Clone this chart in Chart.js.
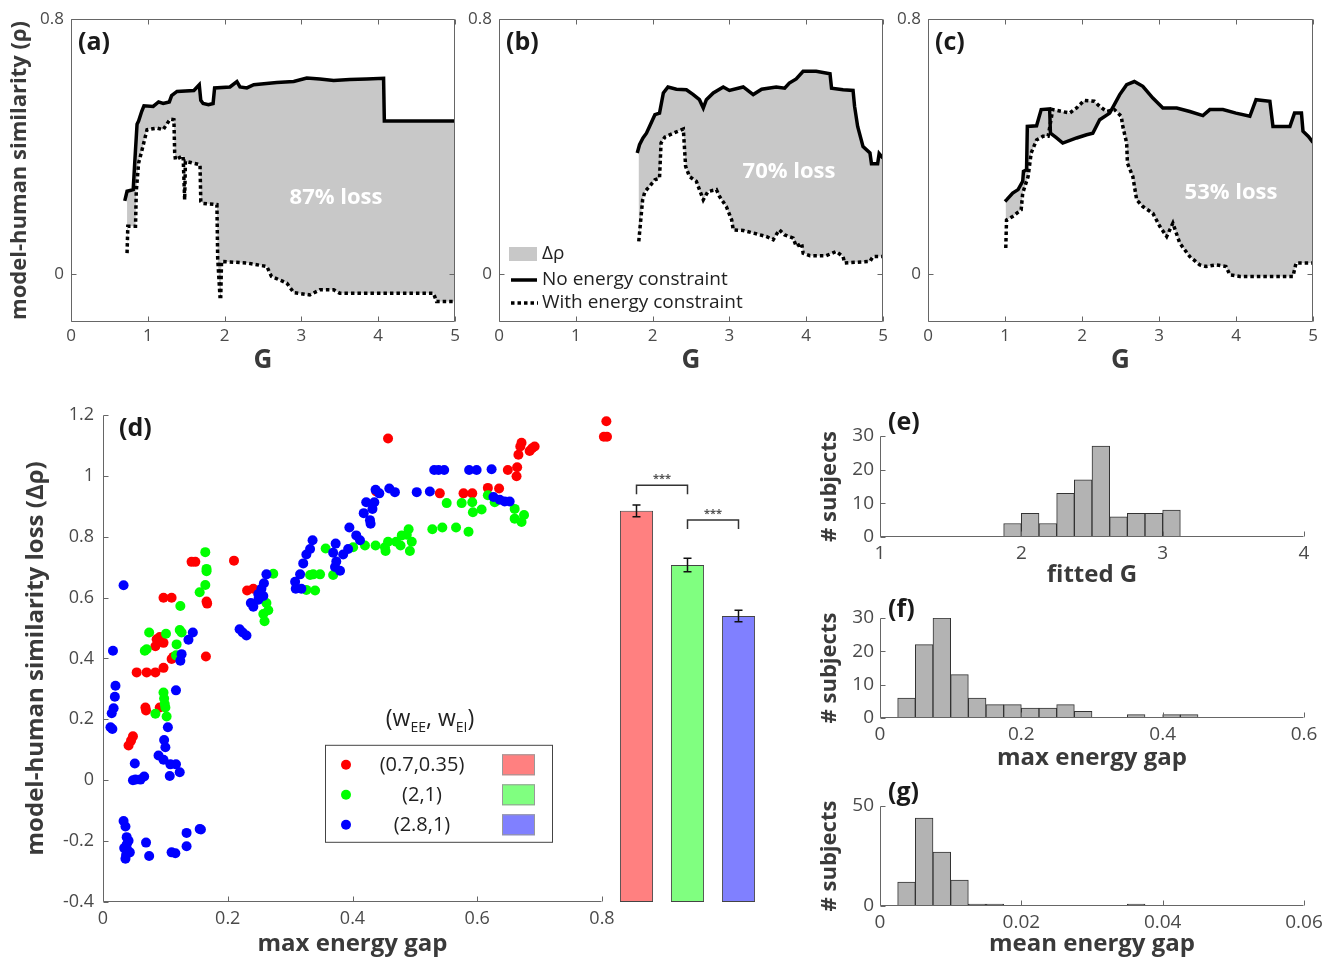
<!DOCTYPE html>
<html>
<head>
<meta charset="utf-8">
<script src="https://cdn.jsdelivr.net/npm/chart.js@4.4.0/dist/chart.umd.min.js"></script>
<style>
html, body { margin: 0; padding: 0; background: #fff; }
#fig { position: relative; width: 1335px; height: 960px; overflow: hidden; background: #fff; }
#fig canvas { position: absolute; }
</style>
</head>
<body>
<div id="fig"></div>
<script>
// ---- (a)-(c): similarity vs G, free model and energy-constrained model ----
const gA_free   = [0.70,0.73,0.81,0.83,0.86,0.88,0.92,0.95,1.07,1.14,1.2,1.28,1.31,1.38,1.6,1.67,1.69,1.72,1.79,1.85,1.87,2.07,2.16,2.2,2.29,2.38,2.68,2.9,3.07,3.24,3.42,3.63,3.85,4.07,4.08,5.0];
const rhoA_free = [0.23,0.26,0.265,0.35,0.47,0.48,0.51,0.528,0.526,0.54,0.535,0.54,0.56,0.573,0.576,0.594,0.545,0.535,0.531,0.535,0.584,0.587,0.604,0.587,0.584,0.594,0.601,0.604,0.615,0.612,0.607,0.61,0.612,0.614,0.48,0.48];
const gA_con    = [0.73,0.74,0.84,0.85,0.88,0.92,0.99,1.12,1.2,1.29,1.34,1.35,1.36,1.44,1.46,1.48,1.49,1.68,1.69,1.72,1.9,1.91,1.94,1.95,1.96,2.29,2.55,2.61,2.81,2.9,3.11,3.24,3.42,3.5,4.72,4.76,5.0];
const rhoA_con  = [0.066,0.15,0.15,0.26,0.348,0.385,0.453,0.458,0.453,0.486,0.484,0.38,0.359,0.369,0.37,0.233,0.354,0.343,0.228,0.222,0.218,0.05,-0.07,-0.07,0.04,0.035,0.024,-0.007,-0.028,-0.058,-0.065,-0.049,-0.049,-0.06,-0.06,-0.086,-0.086];

const gB_free   = [1.80,1.83,1.875,1.92,1.96,2.03,2.09,2.14,2.2,2.31,2.44,2.53,2.61,2.66,2.7,2.79,2.92,3.0,3.18,3.31,3.42,3.61,3.72,3.78,3.87,3.96,4.13,4.31,4.33,4.48,4.61,4.63,4.67,4.74,4.83,4.85,4.93,4.95,5.0];
const rhoB_free = [0.38,0.406,0.427,0.442,0.463,0.5,0.505,0.568,0.587,0.58,0.578,0.563,0.547,0.521,0.547,0.568,0.587,0.576,0.587,0.563,0.58,0.587,0.583,0.599,0.612,0.636,0.636,0.628,0.583,0.578,0.576,0.526,0.463,0.4,0.38,0.346,0.346,0.378,0.364];
const gB_con    = [1.82,1.83,1.87,1.9,1.96,2.03,2.09,2.11,2.16,2.27,2.33,2.4,2.43,2.48,2.57,2.61,2.66,2.72,2.83,2.87,2.96,3.03,3.05,3.18,3.31,3.48,3.57,3.65,3.72,3.83,3.87,3.94,3.96,4.05,4.26,4.39,4.48,4.5,4.83,4.87,5.0];
const rhoB_con  = [0.103,0.129,0.233,0.259,0.275,0.296,0.301,0.411,0.43,0.442,0.448,0.455,0.338,0.306,0.291,0.265,0.233,0.259,0.265,0.244,0.212,0.17,0.139,0.137,0.129,0.118,0.108,0.139,0.123,0.113,0.087,0.097,0.066,0.058,0.058,0.071,0.055,0.035,0.04,0.055,0.055];

const gC_free   = [1.0,1.02,1.1,1.17,1.23,1.24,1.28,1.29,1.41,1.47,1.58,1.59,1.67,1.75,1.93,2.06,2.14,2.23,2.36,2.49,2.58,2.68,2.79,2.92,3.05,3.23,3.4,3.57,3.66,3.83,4.0,4.18,4.26,4.44,4.48,4.7,4.76,4.85,4.87,4.94,5.0];
const rhoC_free = [0.228,0.233,0.254,0.265,0.291,0.322,0.327,0.463,0.465,0.516,0.518,0.442,0.427,0.411,0.427,0.437,0.442,0.484,0.505,0.563,0.594,0.604,0.589,0.552,0.521,0.521,0.51,0.497,0.516,0.516,0.505,0.495,0.547,0.542,0.463,0.463,0.505,0.505,0.448,0.432,0.413];
const gC_con    = [1.01,1.02,1.1,1.21,1.23,1.3,1.34,1.41,1.49,1.56,1.62,1.84,1.93,2.03,2.16,2.23,2.32,2.42,2.51,2.53,2.58,2.59,2.66,2.71,2.79,2.92,3.01,3.1,3.18,3.27,3.4,3.53,3.61,3.74,3.87,3.92,4.05,4.74,4.78,5.0];
const rhoC_con  = [0.082,0.17,0.181,0.202,0.254,0.306,0.38,0.421,0.432,0.432,0.516,0.505,0.521,0.545,0.542,0.526,0.51,0.516,0.495,0.463,0.411,0.348,0.306,0.233,0.212,0.191,0.15,0.118,0.16,0.097,0.055,0.029,0.024,0.029,0.024,-0.002,-0.007,-0.007,0.035,0.035];

const rhoTicks = [0, 0.8];
const lossLabels = ['87% loss', '70% loss', '53% loss'];
const seriesNames = ['Δρ', 'No energy constraint', 'With energy constraint'];

// ---- (d): similarity loss vs max energy gap, one list per (wEE, wEI) ----
const redX = [0.041,0.048,0.045,0.068,0.069,0.054,0.070,0.084,0.097,0.091,0.084,0.086,0.097,0.091,0.110,0.113,0.097,0.110,0.142,0.148,0.166,0.167,0.165,0.210,0.231,0.241,0.438,0.457,0.540,0.578,0.592,0.617,0.635,0.649,0.664,0.663,0.666,0.669,0.671,0.684,0.688,0.692,0.807,0.803,0.808];
const redY = [0.114,0.144,0.13,0.239,0.229,0.354,0.354,0.354,0.369,0.239,0.440,0.463,0.451,0.47,0.398,0.405,0.599,0.599,0.717,0.717,0.587,0.58,0.406,0.721,0.623,0.629,0.948,1.122,0.942,0.942,0.942,0.960,0.958,1.019,1.028,0.998,1.069,1.096,1.108,1.081,1.090,1.096,1.179,1.128,1.128];
const greenX = [0.067,0.070,0.074,0.101,0.124,0.123,0.118,0.117,0.126,0.097,0.098,0.100,0.102,0.084,0.099,0.155,0.164,0.166,0.164,0.166,0.257,0.259,0.262,0.265,0.273,0.337,0.348,0.340,0.357,0.326,0.332,0.369,0.401,0.420,0.437,0.452,0.457,0.470,0.479,0.487,0.490,0.495,0.492,0.477,0.453,0.528,0.544,0.566,0.586,0.551,0.575,0.592,0.593,0.607,0.617,0.628,0.660,0.660,0.671,0.675];
const greenY = [0.425,0.43,0.485,0.481,0.572,0.493,0.446,0.410,0.485,0.288,0.268,0.239,0.209,0.218,0.25,0.617,0.749,0.694,0.641,0.686,0.546,0.522,0.582,0.558,0.678,0.676,0.676,0.623,0.761,0.625,0.674,0.674,0.765,0.771,0.771,0.765,0.783,0.783,0.804,0.806,0.824,0.783,0.753,0.771,0.753,0.824,0.830,0.830,0.816,0.910,0.910,0.913,0.880,0.889,0.936,0.913,0.891,0.859,0.848,0.871];
const blueX = [0.033,0.016,0.020,0.019,0.017,0.014,0.012,0.015,0.051,0.052,0.060,0.066,0.048,0.089,0.097,0.098,0.100,0.104,0.107,0.108,0.117,0.123,0.117,0.124,0.126,0.137,0.144,0.033,0.036,0.038,0.038,0.039,0.037,0.036,0.041,0.034,0.043,0.069,0.074,0.110,0.116,0.134,0.134,0.155,0.157,0.219,0.224,0.230,0.237,0.241,0.249,0.254,0.258,0.262,0.257,0.249,0.308,0.309,0.316,0.321,0.326,0.332,0.336,0.318,0.373,0.369,0.374,0.380,0.372,0.385,0.393,0.395,0.406,0.412,0.418,0.422,0.428,0.432,0.435,0.437,0.443,0.459,0.468,0.503,0.524,0.531,0.538,0.547,0.587,0.599,0.623,0.626,0.636,0.644,0.652,0.429];
const blueY = [0.64,0.425,0.31,0.274,0.236,0.22,0.174,0.168,0.055,0.002,0.002,0.012,0.0,0.081,0.067,0.132,0.108,0.174,0.014,0.052,0.052,0.026,0.295,0.392,0.414,0.461,0.485,-0.134,-0.152,-0.187,-0.211,-0.229,-0.246,-0.258,-0.199,-0.223,-0.237,-0.205,-0.249,-0.237,-0.240,-0.173,-0.217,-0.160,-0.162,0.496,0.485,0.475,0.582,0.570,0.611,0.629,0.647,0.676,0.605,0.593,0.652,0.629,0.676,0.712,0.741,0.759,0.788,0.629,0.777,0.747,0.718,0.688,0.700,0.741,0.759,0.830,0.804,0.788,0.877,0.913,0.854,0.891,0.913,0.954,0.942,0.958,0.946,0.946,0.948,1.019,1.019,1.019,1.019,1.019,1.021,0.930,0.921,0.915,0.915,0.842];

// mean loss per group, with error bars
const groupNames = ['(0.7,0.35)', '(2,1)', '(2.8,1)'];
const groupMean = [0.872, 0.696, 0.530];
const groupErr = [0.019, 0.022, 0.019];
const sigPairs = [[0, 1], [1, 2]];
const sigLevel = [0.955, 0.842];

// ---- (e)-(g): histograms (bin centres and counts) ----
const histE_x = [1.9375,2.0625,2.1875,2.3125,2.4375,2.5625,2.6875,2.8125,2.9375,3.0625];
const histE_n = [4,7,4,13,17,27,6,7,7,8];
const histF_x = [0.0375,0.0625,0.0875,0.1125,0.1375,0.1625,0.1875,0.2125,0.2375,0.2625,0.2875,0.3125,0.3375,0.3625,0.3875,0.4125,0.4375];
const histF_n = [6,22,30,13,6,4,4,3,3,4,2,0,0,1,0,1,1];
const histG_x = [0.00375,0.00625,0.00875,0.01125,0.01375,0.01625,0.01875,0.02125,0.02375,0.02625,0.02875,0.03125,0.03375,0.03625];
const histG_n = [12,44,27,13,1,1,0,0,0,0,0,0,0,1];

const FONT = "'Open Sans', 'DejaVu Sans', sans-serif";
Chart.defaults.font.family = FONT;
Chart.defaults.color = '#4a4a4a';
Chart.defaults.animation = false;
Chart.defaults.events = [];
Chart.defaults.plugins.legend.display = false;
Chart.defaults.plugins.tooltip.enabled = false;

const AXIS = '#666';
const TICK = '#4a4a4a';
const TITLE = '#3a3a3a';
const FILL = '#c8c8c8';
const dotColors = ['#ff0000', '#00ff00', '#0000ff'];
const barColors = ['#ff8080', '#80ff80', '#8080ff'];

// tick text like matlab: 1 not 1.0
function num(v) { return String(+(+v).toFixed(3)); }

function makeCanvas(left, top, w, h) {
    var c = document.createElement('canvas');
    c.width = w;
    c.height = h;
    c.style.left = left + 'px';
    c.style.top = top + 'px';
    c.style.width = w + 'px';
    c.style.height = h + 'px';
    document.getElementById('fig').appendChild(c);
    return c.getContext('2d');
}

function pts(xs, ys) {
    return xs.map(function (x, i) { return {x: x, y: ys[i]}; });
}

function txt(ctx, s, x, y, font, color, align) {
    ctx.font = font;
    ctx.fillStyle = color;
    ctx.textAlign = align || 'left';
    ctx.textBaseline = 'middle';
    ctx.fillText(s, x, y);
}

// matlab style axes: ticks pointing in, optional full box
function frame(box) {
    return {
        id: 'frame',
        afterDatasetsDraw(chart) {
            var ctx = chart.ctx, a = chart.chartArea, x = chart.scales.x, y = chart.scales.y;
            var L = Math.round(a.left) + 0.5, R = Math.round(a.right) - 0.5;
            var T = Math.round(a.top) + 0.5, B = Math.round(a.bottom) - 0.5;
            ctx.save();
            ctx.strokeStyle = AXIS;
            ctx.lineWidth = 1;
            ctx.setLineDash([]);
            ctx.beginPath();
            ctx.moveTo(L, T);
            ctx.lineTo(L, B);
            ctx.lineTo(R, B);
            if (box) { ctx.lineTo(R, T); ctx.closePath(); }
            x.ticks.forEach(function (t) {
                var px = Math.round(x.getPixelForValue(t.value)) + 0.5;
                ctx.moveTo(px, B); ctx.lineTo(px, B - 5);
                if (box) { ctx.moveTo(px, T); ctx.lineTo(px, T + 5); }
            });
            y.ticks.forEach(function (t) {
                var py = Math.round(y.getPixelForValue(t.value)) + 0.5;
                ctx.moveTo(L, py); ctx.lineTo(L + 5, py);
                if (box) { ctx.moveTo(R, py); ctx.lineTo(R - 5, py); }
            });
            ctx.stroke();
            ctx.restore();
        }
    };
}

// ---------- top row ----------
function linePanel(box, free, con, idx, yTitle, decor) {
    var ctx = makeCanvas(box.left, box.top, box.w, box.h);
    return new Chart(ctx, {
        type: 'line',
        data: {
            datasets: [
                {data: free, borderColor: '#000', borderWidth: 3.5, pointRadius: 0,
                 fill: {target: 1}, backgroundColor: FILL, tension: 0},
                {data: con, borderColor: '#000', borderWidth: 3.5, borderDash: [3.5, 3],
                 pointRadius: 0, fill: false, tension: 0}
            ]
        },
        options: {
            responsive: false,
            layout: {padding: {left: 0, top: box.T, right: box.R, bottom: 0}},
            plugins: {filler: {drawTime: 'beforeDatasetsDraw'}},
            scales: {
                x: {
                    type: 'linear', min: 0, max: 5,
                    afterFit: function (s) { s.height = box.B; },
                    grid: {display: false, drawTicks: false},
                    border: {display: false},
                    ticks: {stepSize: 1, padding: 4, color: TICK, font: {size: 17}, callback: num},
                    title: {display: true, text: 'G', color: TITLE,
                            font: {size: 26, weight: 'bold'}, padding: {top: 0, bottom: 4}}
                },
                y: {
                    min: -0.15, max: 0.8,
                    afterFit: function (s) { s.width = box.L; },
                    afterBuildTicks: function (s) { s.ticks = rhoTicks.map(function (v) { return {value: v}; }); },
                    grid: {display: false, drawTicks: false},
                    border: {display: false},
                    ticks: {padding: 7, color: TICK, font: {size: 17}, callback: num},
                    title: {display: !!yTitle, text: yTitle || '', color: TITLE,
                            font: {size: 22, weight: 'bold'}, padding: {top: 7, bottom: 0}}
                }
            }
        },
        plugins: [frame(true), {
            id: 'decor',
            afterDraw(chart) {
                var c = chart.ctx, a = chart.chartArea;
                c.save();
                txt(c, '(' + 'abc'[idx] + ')', a.left + 7, a.top + 24, 'bold 25px ' + FONT, '#1a1a1a');
                txt(c, lossLabels[idx], a.left + box.lossDx, a.top + box.lossDy, 'bold 22px ' + FONT, '#ffffff', 'center');
                if (decor) decor(c, a);
                c.restore();
            }
        }]
    });
}

linePanel({left: 0, top: 0, w: 465, h: 380, L: 71, T: 19, R: 10, B: 58, lossDx: 265, lossDy: 179},
    pts(gA_free, rhoA_free), pts(gA_con, rhoA_con), 0, 'model-human similarity (ρ)');

linePanel({left: 465, top: 0, w: 430, h: 380, L: 34, T: 19, R: 12, B: 58, lossDx: 290, lossDy: 153},
    pts(gB_free, rhoB_free), pts(gB_con, rhoB_con), 1, null, function (c, a) {
        var f = '19px ' + FONT;
        c.fillStyle = FILL;
        c.fillRect(a.left + 10, a.top + 228, 28, 14);
        txt(c, seriesNames[0], a.left + 43, a.top + 235, f, '#222');
        c.strokeStyle = '#000';
        c.lineWidth = 3.5;
        c.beginPath();
        c.moveTo(a.left + 12, a.top + 261); c.lineTo(a.left + 38, a.top + 261);
        c.stroke();
        txt(c, seriesNames[1], a.left + 43, a.top + 261, f, '#222');
        c.setLineDash([3.5, 3]);
        c.beginPath();
        c.moveTo(a.left + 12, a.top + 284); c.lineTo(a.left + 39, a.top + 284);
        c.stroke();
        c.setLineDash([]);
        txt(c, seriesNames[2], a.left + 43, a.top + 284, f, '#222');
    });

linePanel({left: 895, top: 0, w: 440, h: 380, L: 33, T: 19, R: 22, B: 58, lossDx: 303, lossDy: 174},
    pts(gC_free, rhoC_free), pts(gC_con, rhoC_con), 2, null);

// ---------- (d) scatter ----------
var ctxD = makeCanvas(0, 395, 630, 565);
new Chart(ctxD, {
    type: 'scatter',
    data: {
        datasets: [
            {data: pts(blueX, blueY), backgroundColor: dotColors[2], borderColor: dotColors[2], pointRadius: 5, borderWidth: 0, clip: false},
            {data: pts(greenX, greenY), backgroundColor: dotColors[1], borderColor: dotColors[1], pointRadius: 5, borderWidth: 0, clip: false},
            {data: pts(redX, redY), backgroundColor: dotColors[0], borderColor: dotColors[0], pointRadius: 5, borderWidth: 0, clip: false}
        ]
    },
    options: {
        responsive: false,
        layout: {padding: {left: 0, top: 15, right: 28, bottom: 0}},
        scales: {
            x: {
                type: 'linear', min: 0, max: 0.8,
                afterFit: function (s) { s.height = 58; },
                grid: {display: false, drawTicks: false},
                border: {display: false},
                ticks: {stepSize: 0.2, padding: 6, color: TICK, font: {size: 18}, callback: num},
                title: {display: true, text: 'max energy gap', color: TITLE,
                        font: {size: 24, weight: 'bold'}, padding: {top: 0, bottom: 1}}
            },
            y: {
                min: -0.4, max: 1.2,
                afterFit: function (s) { s.width = 103; },
                grid: {display: false, drawTicks: false},
                border: {display: false},
                ticks: {stepSize: 0.2, padding: 9, color: TICK, font: {size: 18}, callback: num},
                title: {display: true, text: 'model-human similarity loss (Δρ)', color: TITLE,
                        font: {size: 24, weight: 'bold'}, padding: {top: 22, bottom: 0}}
            }
        }
    },
    plugins: [frame(false), {
        id: 'decorD',
        afterDraw(chart) {
            var c = chart.ctx, a = chart.chartArea;
            c.save();
            txt(c, '(d)', a.left + 16, a.top + 14, 'bold 25px ' + FONT, '#1a1a1a');
            // legend title (w_EE, w_EI)
            var big = '23px ' + FONT, small = '14px ' + FONT;
            var parts = [['(w', big, 0], ['EE', small, 8], [', w', big, 0], ['EI', small, 8], [')', big, 0]];
            var total = 0;
            parts.forEach(function (p) { c.font = p[1]; total += c.measureText(p[0]).width; });
            var x0 = a.left + 327 - total / 2, yb = a.top + 305;
            c.textBaseline = 'middle';
            c.textAlign = 'left';
            c.fillStyle = '#222';
            parts.forEach(function (p) {
                c.font = p[1];
                c.fillText(p[0], x0, yb + p[2]);
                x0 += c.measureText(p[0]).width;
            });
            // legend box
            c.strokeStyle = '#444';
            c.lineWidth = 1;
            c.strokeRect(a.left + 222.5, a.top + 330.5, 227, 97);
            for (var i = 0; i < 3; i++) {
                var yy = a.top + 350 + i * 30;
                c.fillStyle = dotColors[i];
                c.beginPath();
                c.arc(a.left + 243, yy, 5, 0, Math.PI * 2);
                c.fill();
                txt(c, groupNames[i], a.left + 319, yy, '20px ' + FONT, '#222', 'center');
                c.fillStyle = barColors[i];
                c.fillRect(a.left + 399, yy - 10.5, 33, 21);
                c.strokeStyle = '#999';
                c.strokeRect(a.left + 399.5, yy - 10, 32, 20);
            }
            c.restore();
        }
    }]
});

// ---------- (d) group means as bars ----------
var ctxBar = makeCanvas(611, 410, 153, 492);
new Chart(ctxBar, {
    type: 'bar',
    data: {
        labels: groupNames,
        datasets: [{
            data: groupMean, base: -0.4,
            backgroundColor: barColors, borderColor: '#444', borderWidth: 1, borderSkipped: false,
            barPercentage: 0.65, categoryPercentage: 1
        }]
    },
    options: {
        responsive: false,
        layout: {padding: 0},
        scales: {
            x: {display: false},
            y: {display: false, min: -0.4, max: 1.2}
        }
    },
    plugins: [{
        id: 'errbars',
        afterDatasetsDraw(chart) {
            var c = chart.ctx, y = chart.scales.y, bars = chart.getDatasetMeta(0).data;
            c.save();
            c.strokeStyle = '#111';
            c.lineWidth = 1.5;
            bars.forEach(function (b, i) {
                var lo = y.getPixelForValue(groupMean[i] - groupErr[i]);
                var hi = y.getPixelForValue(groupMean[i] + groupErr[i]);
                c.beginPath();
                c.moveTo(b.x, lo); c.lineTo(b.x, hi);
                c.moveTo(b.x - 4, lo); c.lineTo(b.x + 4, lo);
                c.moveTo(b.x - 4, hi); c.lineTo(b.x + 4, hi);
                c.stroke();
            });
            c.strokeStyle = '#333';
            c.lineWidth = 1.5;
            sigPairs.forEach(function (p, k) {
                var x1 = bars[p[0]].x, x2 = bars[p[1]].x;
                var top = y.getPixelForValue(sigLevel[k]);
                c.beginPath();
                c.moveTo(x1, top + 9); c.lineTo(x1, top); c.lineTo(x2, top); c.lineTo(x2, top + 9);
                c.stroke();
                txt(c, '***', (x1 + x2) / 2, top - 6, 'bold 11px ' + FONT, '#555', 'center');
            });
            c.restore();
        }
    }]
});

// ---------- (e)-(g) histograms ----------
function histPanel(box, xs, ns, xr, yr, xTitle, label) {
    var ctx = makeCanvas(box.left, box.top, box.w, box.h);
    return new Chart(ctx, {
        type: 'bar',
        data: {
            datasets: [{
                data: pts(xs, ns),
                backgroundColor: '#b3b3b3', borderColor: '#333', borderWidth: 1, borderSkipped: false,
                barPercentage: 1, categoryPercentage: 1
            }]
        },
        options: {
            responsive: false,
            layout: {padding: {left: 0, top: box.T, right: box.R, bottom: 0}},
            scales: {
                x: {
                    type: 'linear', offset: false, min: xr[0], max: xr[1],
                    afterFit: function (s) { s.height = box.B; },
                    grid: {display: false, drawTicks: false},
                    border: {display: false},
                    ticks: {stepSize: xr[2], padding: 5, color: TICK, font: {size: 19}, callback: num},
                    title: {display: true, text: xTitle, color: TITLE,
                            font: {size: 24, weight: 'bold'}, padding: {top: 0, bottom: box.xPad}}
                },
                y: {
                    min: 0, max: yr[0],
                    afterFit: function (s) { s.width = box.L; },
                    grid: {display: false, drawTicks: false},
                    border: {display: false},
                    ticks: {stepSize: yr[1], padding: 6, color: TICK, font: {size: 19}, callback: num},
                    title: {display: true, text: '# subjects', color: TITLE,
                            font: {size: 22, weight: 'bold'}, padding: {top: 2, bottom: 0}}
                }
            }
        },
        plugins: [frame(false), {
            id: 'decorH',
            afterDraw(chart) {
                var a = chart.chartArea;
                txt(chart.ctx, label, a.left + 8, a.top + box.labDy, 'bold 25px ' + FONT, '#1a1a1a');
            }
        }]
    });
}

histPanel({left: 815, top: 400, w: 520, h: 190, L: 65, T: 36, R: 31, B: 53, xPad: 0, labDy: -13},
    histE_x, histE_n, [1, 4, 1], [30, 10], 'fitted G', '(e)');
histPanel({left: 815, top: 590, w: 520, h: 190, L: 65, T: 28, R: 31, B: 62, xPad: 7, labDy: -8},
    histF_x, histF_n, [0, 0.6, 0.2], [30, 10], 'max energy gap', '(f)');
histPanel({left: 815, top: 775, w: 520, h: 185, L: 65, T: 31, R: 31, B: 54, xPad: 1, labDy: -13},
    histG_x, histG_n, [0, 0.06, 0.02], [50, 50], 'mean energy gap', '(g)');
</script>
</body>
</html>
